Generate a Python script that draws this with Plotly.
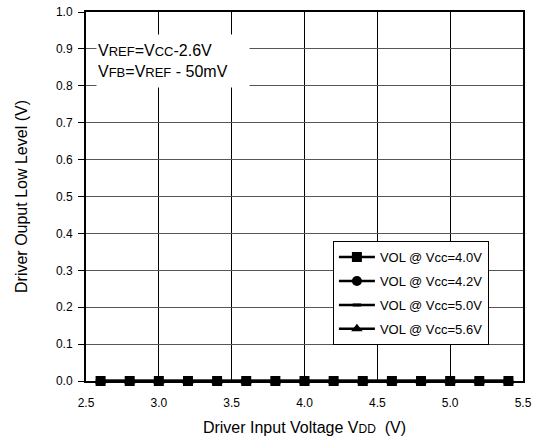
import plotly.graph_objects as go

# Driver input voltage sweep (V)
vdd = [2.6, 2.8, 3.0, 3.2, 3.4, 3.6, 3.8, 4.0, 4.2, 4.4, 4.6, 4.8, 5.0, 5.2, 5.4]

# Driver output low level (V) for each supply voltage
vol_vcc_40 = [0, 0, 0, 0, 0, 0, 0, 0, 0, 0, 0, 0, 0, 0, 0]
vol_vcc_42 = [0, 0, 0, 0, 0, 0, 0, 0, 0, 0, 0, 0, 0, 0, 0]
vol_vcc_50 = [0, 0, 0, 0, 0, 0, 0, 0, 0, 0, 0, 0, 0, 0, 0]
vol_vcc_56 = [0, 0, 0, 0, 0, 0, 0, 0, 0, 0, 0, 0, 0, 0, 0]

series_names = ["VOL @ Vcc=4.0V", "VOL @ Vcc=4.2V", "VOL @ Vcc=5.0V", "VOL @ Vcc=5.6V"]

x_ticks = [2.5, 3.0, 3.5, 4.0, 4.5, 5.0, 5.5]
y_ticks = [0.0, 0.1, 0.2, 0.3, 0.4, 0.5, 0.6, 0.7, 0.8, 0.9, 1.0]

FONT = "Liberation Sans, Arial, sans-serif"

# (values, name, symbol, size, legend rank); drawn back to front so squares end up on top
styles = [
    (vol_vcc_56, series_names[3], "triangle-up", 10, 4),
    (vol_vcc_50, series_names[2], "line-ew", 6, 3),
    (vol_vcc_42, series_names[1], "circle", 10, 2),
    (vol_vcc_40, series_names[0], "square", 10, 1),
]

fig = go.Figure()
for vals, name, sym, size, rank in styles:
    fig.add_trace(go.Scatter(
        x=vdd, y=vals, name=name, mode="lines+markers",
        line=dict(color="black", width=2.5),
        marker=dict(symbol=sym, size=size, color="black",
                    line=dict(color="black", width=3 if sym == "line-ew" else 0)),
        legendrank=rank, legendgroup=name,
        cliponaxis=False,
    ))

fig.update_layout(
    width=542, height=436,
    margin=dict(l=86, r=19, t=12, b=55),
    paper_bgcolor="white", plot_bgcolor="white",
    font=dict(family=FONT, size=12, color="black"),
    showlegend=True,
    legend=dict(
        x=0.565, y=0.379, xanchor="left", yanchor="top",
        bgcolor="white", bordercolor="black", borderwidth=1,
        font=dict(size=13, family=FONT),
        tracegroupgap=4, itemwidth=36,
    ),
    xaxis=dict(
        range=[2.5, 5.5], tickvals=x_ticks, ticktext=[f"{v:.1f}" for v in x_ticks],
        showgrid=True, gridcolor="black", gridwidth=1,
        showline=True, linecolor="black", linewidth=2, mirror=True,
        ticks="", zeroline=False, automargin=False,
        tickfont=dict(size=12), ticklabelstandoff=10,
        title=dict(text="Driver Input Voltage V<span style='font-size:12px'>DD</span>  (V)",
                   font=dict(size=16), standoff=12),
    ),
    yaxis=dict(
        range=[0, 1], tickvals=y_ticks, ticktext=[f"{v:.1f}" for v in y_ticks],
        showgrid=True, gridcolor="#555555", gridwidth=1,
        showline=True, linecolor="black", linewidth=2, mirror=True,
        ticks="outside", ticklen=6, tickcolor="black", tickwidth=1,
        zeroline=False, automargin=False,
        tickfont=dict(size=12), ticklabelstandoff=3,
        title=dict(text="Driver Ouput Low Level (V)", font=dict(size=16), standoff=24),
    ),
    annotations=[dict(
        xref="paper", yref="paper", x=0.199, y=0.868,
        xanchor="center", yanchor="middle",
        text=("V<span style='font-size:13px'>REF</span>=V<span style='font-size:13px'>CC</span>-2.6V<br>"
              "V<span style='font-size:13px'>FB</span>=V<span style='font-size:13px'>REF</span> - 50mV"),
        align="left", showarrow=False,
        font=dict(size=16, family=FONT, color="black"),
        bgcolor="white", width=150, height=50, borderpad=1,
    )],
)

fig.write_html("out.html")
